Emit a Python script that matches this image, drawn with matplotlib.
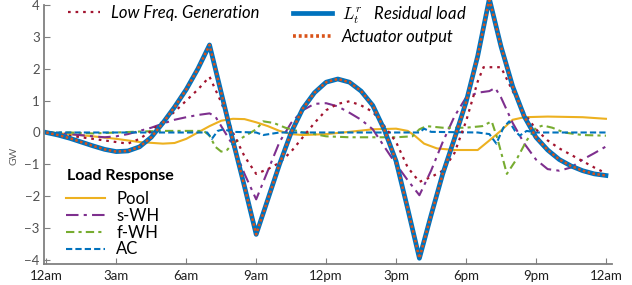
import matplotlib
matplotlib.use("Agg")
import matplotlib.pyplot as plt
from matplotlib.lines import Line2D

plt.rcParams['font.family'] = ['Lato', 'DejaVu Sans']
plt.rcParams['mathtext.fontset'] = 'cm'

# hours of day, values in GW
res_h = [0, 0.5, 1, 1.5, 2, 2.5, 3, 3.5, 4, 4.5, 5, 5.5, 6, 6.5, 7, 7.5, 8, 8.5, 9,
         9.5, 10, 10.5, 11, 11.5, 12, 12.5, 13, 13.5, 14, 14.5, 15, 15.5, 16,
         16.5, 17, 17.5, 18, 18.5, 19, 19.5, 20, 20.5, 21, 21.5, 22, 22.5, 23, 23.5, 24]
res_v = [0, -0.08, -0.18, -0.3, -0.42, -0.53, -0.6, -0.58, -0.45, -0.15, 0.3, 0.8, 1.35,
         2.0, 2.75, 1.25, -0.25, -1.7, -3.2, -2.1, -1.0, 0.0, 0.75, 1.25, 1.58, 1.68,
         1.58, 1.3, 0.85, 0.08, -0.9, -2.4, -3.95, -2.6, -1.3, -0.2, 0.95, 2.4, 4.2,
         2.7, 1.45, 0.5, -0.15, -0.55, -0.85, -1.05, -1.2, -1.3, -1.35]

lf_h = [0, 1, 2, 3, 3.5, 4, 4.5, 5, 5.5, 6, 6.5, 7, 7.5, 8, 8.5, 9, 9.5, 10, 10.5, 11,
        11.5, 12, 12.5, 13, 13.5, 14, 14.5, 15, 15.5, 16, 16.5, 17, 17.5, 18, 18.5,
        18.75, 19.5, 20, 20.5, 21, 21.5, 22, 22.5, 23, 23.5, 24]
lf_v = [0, -0.1, -0.2, -0.3, -0.35, -0.2, 0.05, 0.35, 0.65, 1.0, 1.35, 1.75, 0.95, 0.0,
        -0.75, -1.3, -1.15, -0.95, -0.6, -0.15, 0.3, 0.7, 0.9, 0.98, 0.85, 0.65, 0.2,
        -0.3, -1.1, -1.55, -1.4, -1.2, -0.65, 0.35, 1.6, 2.05, 2.05, 1.3, 0.6, 0.1,
        -0.25, -0.5, -0.7, -0.9, -1.1, -1.28]

swh_h = [0, 1, 2, 2.5, 3, 3.5, 4, 4.5, 5, 5.5, 6, 6.5, 7, 7.25, 7.5, 8, 8.5, 9, 9.5, 10,
         10.5, 11, 11.5, 12, 12.5, 13, 13.5, 14, 14.5, 15, 15.5, 16, 16.5, 17, 17.5,
         18, 18.5, 19, 19.25, 19.5, 20, 20.5, 21, 21.5, 22, 22.5, 23, 23.5, 24]
swh_v = [0, -0.05, -0.12, -0.15, -0.12, -0.05, 0.05, 0.15, 0.28, 0.4, 0.48, 0.55, 0.6,
         0.5, 0.2, -0.4, -1.3, -2.1, -1.2, -0.3, 0.3, 0.7, 0.9, 0.92, 0.82, 0.62, 0.4,
         0.1, -0.45, -1.0, -1.5, -1.97, -1.2, -0.3, 0.5, 1.1, 1.25, 1.3, 1.4, 1.1, 0.3,
         -0.35, -0.85, -1.15, -1.2, -1.1, -0.85, -0.65, -0.44]

fwh_h = [0, 1, 2, 3, 4, 5, 6, 6.75, 7, 7.25, 7.5, 7.75, 8, 8.5, 9, 9.3, 9.75, 10.25,
         11, 11.5, 12, 13, 14, 15, 15.7, 16, 16.3, 17, 17.5, 18, 18.7, 19.1, 19.35,
         19.75, 20.2, 20.6, 21, 21.3, 21.7, 22.2, 23, 24]
fwh_v = [0, 0.0, -0.03, 0.0, 0.03, 0.05, 0.05, 0.05, -0.1, -0.45, -0.6, -0.55, -0.35,
         -0.12, 0.1, 0.35, 0.3, 0.15, 0.0, -0.05, -0.12, -0.15, -0.15, -0.15, -0.12,
         0.1, 0.2, 0.15, 0.15, 0.15, 0.2, 0.35, -0.2, -1.3, -0.8, -0.25, 0.15, 0.22,
         0.15, 0.0, -0.08, -0.1]

pool_h = [0, 1, 2, 3, 4, 5, 5.5, 6, 6.5, 7, 7.5, 8, 8.5, 9, 9.5, 10, 10.5, 11, 12, 13,
          14, 15, 15.5, 15.8, 16.2, 16.75, 17.5, 18.5, 19, 19.5, 20, 20.5, 21.5, 23, 24]
pool_v = [0, -0.05, -0.12, -0.2, -0.3, -0.35, -0.33, -0.2, 0.0, 0.2, 0.37, 0.43, 0.42,
          0.32, 0.2, 0.05, -0.05, -0.08, -0.05, 0.02, 0.1, 0.12, 0.05, -0.1, -0.35,
          -0.5, -0.55, -0.55, -0.25, 0.06, 0.4, 0.48, 0.5, 0.48, 0.43]

ac_h = [0, 6.9, 7.1, 7.35, 7.6, 8, 9, 9.3, 10, 16, 16.2, 16.5, 18.5, 19, 19.3, 19.6,
        19.85, 20.1, 20.3, 20.6, 21, 24]
ac_v = [0, 0.0, -0.2, 0.05, 0.1, 0.02, 0.0, -0.08, 0.0, 0.0, 0.12, 0.02, 0.0, -0.05,
        -0.35, 0.15, 0.35, 0.05, -0.1, 0.05, 0.0, 0.0]

x_ticks = [0, 3, 6, 9, 12, 15, 18, 21, 24]
x_labels = ['12am', '3am', '6am', '9am', '12pm', '3pm', '6pm', '9pm', '12am']

fig = plt.figure(figsize=(6.32, 2.85), dpi=100)
ax = fig.add_axes([0.0696, 0.0737, 0.8984, 0.9083])

l_pool, = ax.plot(pool_h, pool_v, color='#edb120', lw=1.5, label='Pool')
l_swh, = ax.plot(swh_h, swh_v, color='#7e2f8e', lw=1.5, dashes=(6, 2.5, 1.5, 2.5), label='s-WH')
l_fwh, = ax.plot(fwh_h, fwh_v, color='#77ac30', lw=1.5, dashes=(4, 2, 1.5, 2), label='f-WH')
l_ac, = ax.plot(ac_h, ac_v, color='#0072bd', lw=1.5, dashes=(3, 1.5), label='AC')
l_lf, = ax.plot(lf_h, lf_v, color='#a2142f', lw=1.6, dashes=(1.2, 2.2), label='Low Freq. Generation')
l_res, = ax.plot(res_h, res_v, color='#0072bd', lw=3.4, clip_on=False,
                 label=r'$L_t^r$   Residual load')
l_act, = ax.plot(res_h, res_v, color='#d95319', lw=1.8, dashes=(1, 1), clip_on=False,
                 label='Actuator output')

ax.set_xlim(-0.1, 24.25)
ax.set_ylim(-4.13, 4.0)
ax.set_xticks(x_ticks)
ax.set_xticklabels(x_labels)
ax.set_yticks(range(-4, 5))
for s in ['top', 'right']:
    ax.spines[s].set_visible(False)
for s in ['left', 'bottom']:
    ax.spines[s].set_color('#808080')
    ax.spines[s].set_linewidth(1.3)
ax.tick_params(direction='in', length=4, color='#808080', labelsize=9.5,
               labelcolor='#505050', pad=3)
ax.tick_params(axis='x', labelcolor='#202020', pad=4)
fig.text(0.022, 0.455, 'GW', rotation=90, fontsize=7.5, color='#606060',
         ha='center', va='center')

leg1 = fig.legend(handles=[l_lf], loc='upper left', bbox_to_anchor=(0.108, 0.982),
                  frameon=False, borderpad=0, borderaxespad=0, handlelength=1.9,
                  handletextpad=0.65, prop={'style': 'italic', 'size': 12})
leg2 = fig.legend(handles=[l_res, Line2D([], [], color='#d95319', lw=2.6, dashes=(0.8, 0.8))],
                  labels=[r'$L_t^r$   Residual load', 'Actuator output'],
                  loc='upper left', bbox_to_anchor=(0.464, 0.985),
                  frameon=False, borderpad=0, borderaxespad=0, handlelength=2.3,
                  handletextpad=0.6, labelspacing=0.2,
                  prop={'style': 'italic', 'size': 12})
fig.text(67 / 632, 1 - 176 / 285, 'Load Response', fontsize=11.5, fontweight='bold',
         ha='left', va='center')
leg3 = ax.legend(handles=[l_pool, l_swh, l_fwh, l_ac], loc='upper left',
                 bbox_to_anchor=(0.105, 1 - 191 / 285), bbox_transform=fig.transFigure,
                 frameon=False, borderpad=0, borderaxespad=0, handlelength=2.3,
                 handletextpad=0.7, labelspacing=0.05, fontsize=12)

fig.savefig('out.png', dpi=100)
